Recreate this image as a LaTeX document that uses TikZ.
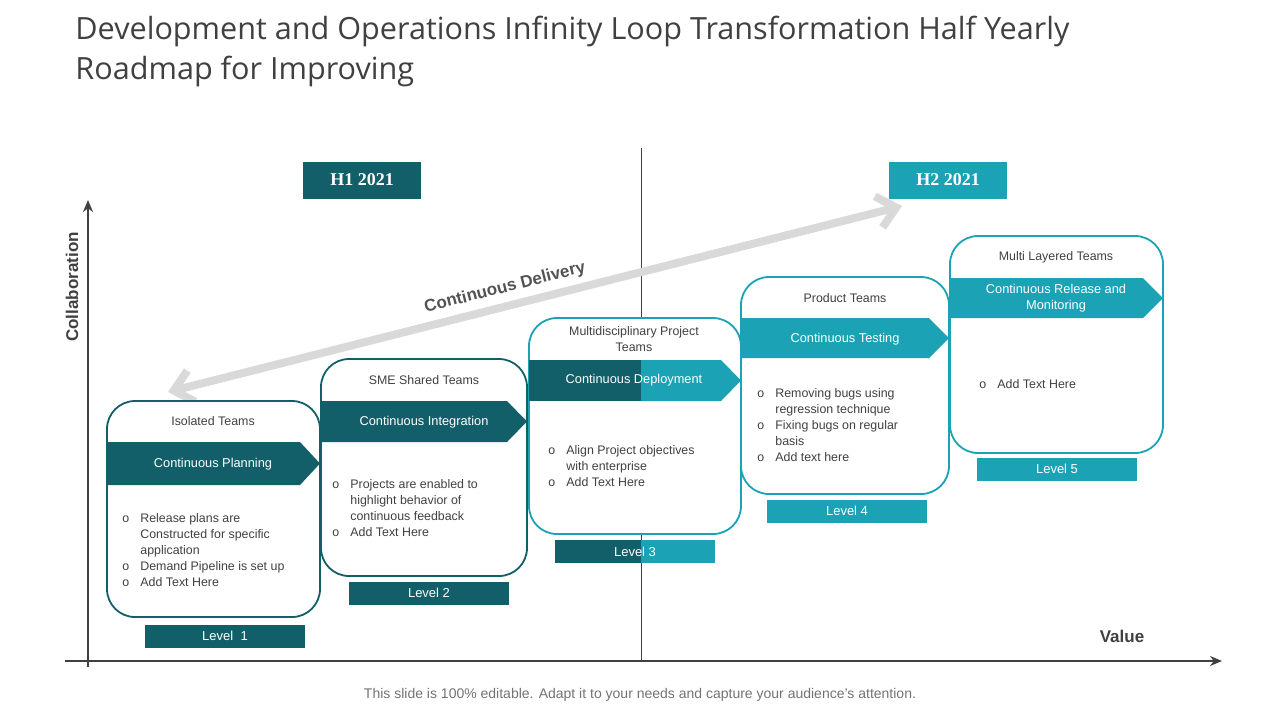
\documentclass[tikz,border=0pt]{standalone}
\usepackage{fontspec}
\setmainfont{Liberation Sans}
\newfontfamily\titlefont{Open Sans}
\newfontfamily\serifbold{Liberation Serif}
\usetikzlibrary{positioning,arrows.meta}
\definecolor{darkteal}{HTML}{135F69}
\definecolor{liteteal}{HTML}{1BA3B5}
\definecolor{axisgray}{HTML}{404040}
\definecolor{textgray}{HTML}{404040}
\newcommand{\bul}{\makebox[9pt][l]{o}}
\tikzset{
  card/.style={draw=#1, line width=0.9pt, rounded corners=14pt, fill=white},
  band/.style={fill=#1, draw=none},
  levelbox/.style={fill=#1, text=white, minimum width=80pt, minimum height=11.5pt, inner sep=0pt, font=\fontsize{6.5}{7}\selectfont},
  cardtitle/.style={text=textgray, font=\fontsize{6.2}{8}\selectfont, align=center},
  bandtext/.style={text=white, font=\fontsize{6.4}{8}\selectfont, align=center},
  bullets/.style={text=textgray, font=\fontsize{6.2}{8}\selectfont, align=left, anchor=north west, inner sep=0pt},
  halfbox/.style={fill=#1, text=white, minimum width=59pt, minimum height=18.5pt, inner sep=0pt, font=\serifbold\bfseries\fontsize{9}{10}\selectfont}
}
\begin{document}
\begin{tikzpicture}[x=0.5pt,y=-0.5pt]
\useasboundingbox (0,0) rectangle (1280,720);
% title
\node[anchor=north west, inner sep=0pt, align=left, text=textgray, font=\titlefont\fontsize{15.3}{20}\selectfont] (title) at (75,16)
  {Development and Operations Infinity Loop Transformation Half Yearly\\Roadmap for Improving};
% divider and axes
\draw[axisgray, line width=0.5pt] (641,148) -- (641,661);
\coordinate (yb) at (88,667);
\coordinate (yt) at (88,200);
\coordinate (xl) at (65,661);
\coordinate (xr) at (1222,661);
\draw[axisgray, line width=1.2pt, -{Stealth[length=6pt,width=5pt]}] (yb) -- (yt);
\draw[axisgray, line width=1.2pt, -{Stealth[length=6pt,width=5pt]}] (xl) -- (xr);
\node[rotate=90, text=axisgray, font=\bfseries\fontsize{8.5}{10}\selectfont] (collab) at (72,287) {Collaboration};
\node[text=axisgray, font=\bfseries\fontsize{8.5}{10}\selectfont] (value) at (1122,636) {Value};
% half-year labels
\node[halfbox=darkteal] (h1) at (362,180) {H1 2021};
\node[halfbox=liteteal] (h2) at (948,180) {H2 2021};
% delivery arrow
\coordinate (dl) at (168,392);
\coordinate (dr) at (902,206);
\draw[black!15, line width=4pt, {Straight Barb[length=9pt,width=16pt]}-{Straight Barb[length=9pt,width=16pt]}] (dl) -- (dr);
\node[rotate=14.2, text=axisgray!90, font=\bfseries\fontsize{8.5}{10}\selectfont] (cd) at (505,288) {Continuous Delivery};
% card 1
\draw[card=darkteal] (107,401) rectangle (320,617);
\node[cardtitle] (t1) at (213,421) {Isolated Teams};
\fill[band=darkteal] (107,442) -- (300,442) -- (320,463.5) -- (300,485) -- (107,485) -- cycle;
\node[bandtext] (b1) at (213,464) {Continuous Planning};
\node[bullets] (l1) at (122,513) {\bul Release plans are\\\hspace{9pt}Constructed for specific\\\hspace{9pt}application\\\bul Demand Pipeline is set up\\\bul Add Text Here};
\node[levelbox=darkteal] (v1) at (225,636) {Level \ 1};
% card 2
\draw[card=darkteal] (321,359) rectangle (527,576);
\node[cardtitle] (t2) at (424,380) {SME Shared Teams};
\fill[band=darkteal] (321,401) -- (507,401) -- (527,421.5) -- (507,442) -- (321,442) -- cycle;
\node[bandtext] (b2) at (424,422) {Continuous Integration};
\node[bullets] (l2) at (332,479) {\bul Projects are enabled to\\\hspace{9pt}highlight behavior of\\\hspace{9pt}continuous feedback\\\bul Add Text Here};
\node[levelbox=darkteal] (v2) at (429,593) {Level 2};
% card 3
\draw[card=liteteal] (529,318) rectangle (741,534);
\node[cardtitle] (t3) at (634,339) {Multidisciplinary Project\\Teams};
\fill[band=liteteal] (641,360) -- (721,360) -- (741,380.5) -- (721,401) -- (641,401) -- cycle;
\fill[band=darkteal] (529,360) rectangle (641,401);
\node[bandtext] (b3) at (634,380) {Continuous Deployment};
\node[bullets] (l3) at (548,445) {\bul Align Project objectives\\\hspace{9pt}with enterprise\\\bul Add Text Here};
\fill[darkteal] (555,540) rectangle (641,563);
\fill[liteteal] (641,540) rectangle (715,563);
\node[text=white, font=\fontsize{6.5}{7}\selectfont] (v3) at (635,552) {Level 3};
% card 4
\draw[card=liteteal] (741,277) rectangle (949,494);
\node[cardtitle] (t4) at (845,298) {Product Teams};
\fill[band=liteteal] (741,318) -- (929,318) -- (949,338) -- (929,358) -- (741,358) -- cycle;
\node[bandtext] (b4) at (845,339) {Continuous Testing};
\node[bullets] (l4) at (757,388) {\bul Removing bugs using\\\hspace{9pt}regression technique\\\bul Fixing bugs on regular\\\hspace{9pt}basis\\\bul Add text here};
\node[levelbox=liteteal] (v4) at (847,511) {Level 4};
% card 5
\draw[card=liteteal] (950,236) rectangle (1163,453);
\node[cardtitle] (t5) at (1056,257) {Multi Layered Teams};
\fill[band=liteteal] (950,278) -- (1143,278) -- (1163,298) -- (1143,318) -- (950,318) -- cycle;
\node[bandtext] (b5) at (1056,298) {Continuous Release and\\Monitoring};
\node[bullets] (l5) at (979,379) {\bul Add Text Here};
\node[levelbox=liteteal] (v5) at (1057,469) {Level 5};
% footer
\node[text=black!55, font=\fontsize{7}{8}\selectfont] (foot) at (640,695) {This slide is 100\% editable. Adapt it to your needs and capture your audience's attention.};
\end{tikzpicture}
\end{document}
